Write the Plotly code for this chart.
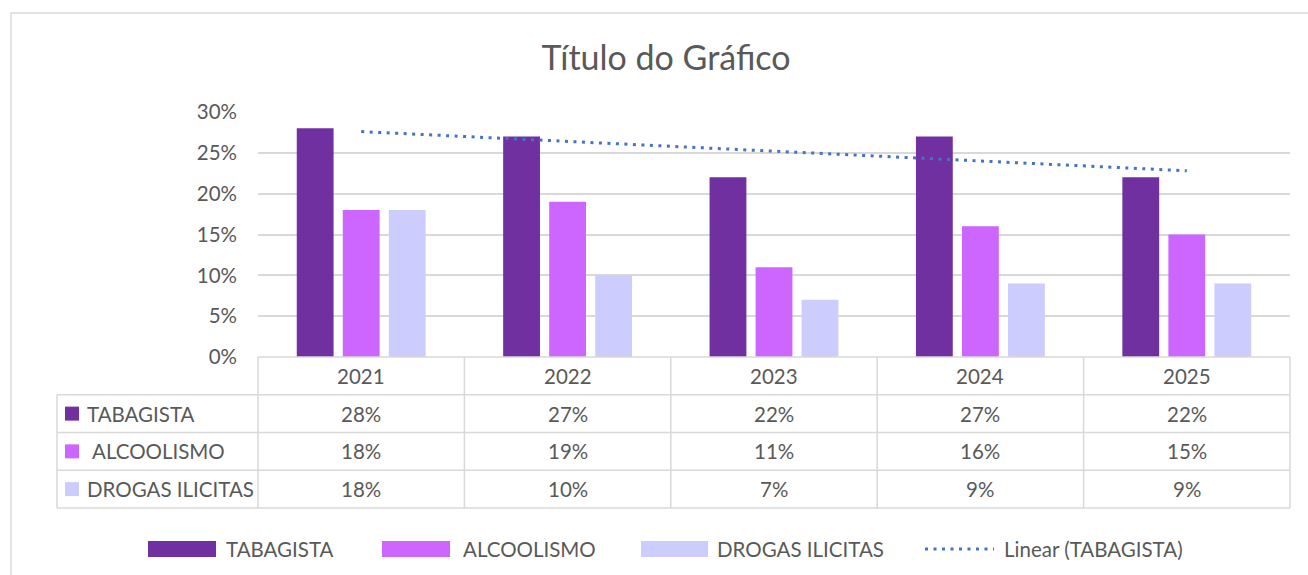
import numpy as np
import plotly.graph_objects as go

# ---- data ----
years = ["2021", "2022", "2023", "2024", "2025"]
series_names = ["TABAGISTA", "ALCOOLISMO", "DROGAS ILICITAS"]
tabagista = [28, 27, 22, 27, 22]
alcoolismo = [18, 19, 11, 16, 15]
drogas = [18, 10, 7, 9, 9]
y_ticks = [0, 5, 10, 15, 20, 25, 30]
y_tick_labels = ["0%", "5%", "10%", "15%", "20%", "25%", "30%"]
trend_name = "Linear (TABAGISTA)"
title_text = "Título do Gráfico"

# ---- style ----
colors = ["#7030A0", "#CC66FF", "#CCCCFF"]
trend_color = "#4472C4"
text_color = "#595959"
grid_color = "#D9D9D9"
FONT = "Lato"

W, H = 1308, 575
L, R, T, B = 258, 18, 112, 218
PW, PH = W - L - R, H - T - B


def px(x):
    return (x - L) / PW


def py(y):
    return (H - B - y) / PH


fig = go.Figure()
all_vals = [tabagista, alcoolismo, drogas]
for name, vals, c in zip(series_names, all_vals, colors):
    fig.add_trace(go.Bar(x=years, y=vals, name=name, marker_color=c,
                         marker_line_width=0, showlegend=False))

# linear trend of TABAGISTA (least squares, as Excel's trendline)
xi = np.arange(1, len(years) + 1)
slope, intercept = np.polyfit(xi, tabagista, 1)
trend = slope * xi + intercept
fig.add_trace(go.Scatter(x=years, y=trend, mode="lines", name=trend_name,
                         line=dict(color=trend_color, width=3, dash="3px,5.5px"),
                         showlegend=False))

shapes = []
annotations = []
line_style = dict(color=grid_color, width=1.5)

# outer frame
shapes.append(dict(type="rect", xref="paper", yref="paper",
                   x0=px(11), x1=px(1330), y0=py(13), y1=py(600),
                   line=dict(color=grid_color, width=1.5), layer="below"))

# data table grid
row_top = 357
row_h = 37.75
rows_y = [row_top + row_h * k for k in range(5)]
shapes.append(dict(type="line", xref="paper", yref="paper",
                   x0=px(258), x1=px(1290), y0=py(rows_y[0]), y1=py(rows_y[0]),
                   line=line_style))
for yy in rows_y[1:]:
    shapes.append(dict(type="line", xref="paper", yref="paper",
                       x0=px(57), x1=px(1290), y0=py(yy), y1=py(yy),
                       line=line_style))
shapes.append(dict(type="line", xref="paper", yref="paper",
                   x0=px(57), x1=px(57), y0=py(rows_y[1]), y1=py(rows_y[4]),
                   line=line_style))
n = len(years)
for k in range(n + 1):
    xx = 258 + PW * k / n
    shapes.append(dict(type="line", xref="paper", yref="paper",
                       x0=px(xx), x1=px(xx), y0=py(rows_y[0]), y1=py(rows_y[4]),
                       line=line_style))

fs = 20.5
tfont = dict(family=FONT, size=fs, color=text_color)
# header (years) - category axis positions are category indices
for i, y in enumerate(years):
    annotations.append(dict(x=i, xref="x", y=py(rows_y[0] + row_h / 2), yref="paper",
                            text=y, showarrow=False, xanchor="center", yanchor="middle",
                            font=tfont))
# rows
for r, (name, vals, c) in enumerate(zip(series_names, all_vals, colors)):
    yc = rows_y[r + 1] + row_h / 2
    shapes.append(dict(type="rect", xref="paper", yref="paper",
                       x0=px(65), x1=px(79), y0=py(yc - 7), y1=py(yc + 7),
                       fillcolor=c, line=dict(width=0)))
    tx = 90 if name == "ALCOOLISMO" else 85
    annotations.append(dict(x=px(tx), xref="paper", y=py(yc), yref="paper",
                            text=name, showarrow=False, xanchor="left", yanchor="middle",
                            font=tfont))
    for i, v in enumerate(vals):
        annotations.append(dict(x=i, xref="x", y=py(yc), yref="paper",
                                text=f"{v}%", showarrow=False,
                                xanchor="center", yanchor="middle", font=tfont))

# custom legend
leg_y = 549
leg_items = [(148, 216, 224), (382, 450, 461), (641, 708, 715)]
for (k0, k1, tx), name, c in zip(leg_items, series_names, colors):
    shapes.append(dict(type="rect", xref="paper", yref="paper",
                       x0=px(k0), x1=px(k1), y0=py(leg_y - 8), y1=py(leg_y + 8),
                       fillcolor=c, line=dict(width=0)))
    annotations.append(dict(x=px(tx), xref="paper", y=py(leg_y), yref="paper",
                            text=name, showarrow=False, xanchor="left", yanchor="middle",
                            font=tfont))
shapes.append(dict(type="line", xref="paper", yref="paper",
                   x0=px(925), x1=px(994), y0=py(leg_y), y1=py(leg_y),
                   line=dict(color=trend_color, width=3, dash="3px,5.5px")))
annotations.append(dict(x=px(1002), xref="paper", y=py(leg_y), yref="paper",
                        text=trend_name, showarrow=False, xanchor="left", yanchor="middle",
                        font=tfont))

fig.update_layout(
    width=W, height=H,
    margin=dict(l=L, r=R, t=T, b=B),
    paper_bgcolor="white", plot_bgcolor="white",
    barmode="group", bargap=0.331, bargroupgap=0.2,
    title=dict(text=title_text, xref="container", x=666 / W, xanchor="center",
               yref="container", y=1 - 58 / H, yanchor="middle",
               font=dict(family=FONT, size=34, color=text_color)),
    xaxis=dict(type="category", range=[-0.5, len(years) - 0.5], autorange=False,
               showticklabels=False, showgrid=False, zeroline=False,
               showline=False, ticks=""),
    yaxis=dict(range=[0, 30], autorange=False, tickmode="array", tickvals=y_ticks,
               ticktext=y_tick_labels,
               showgrid=True, gridcolor=grid_color, gridwidth=1.5,
               zeroline=False, showline=False, ticks="",
               ticklabelstandoff=20,
               tickfont=tfont),
    shapes=shapes, annotations=annotations,
    showlegend=False,
)

fig.write_html("out.html", config={"displayModeBar": False},
               post_script="document.body.style.margin='0';document.body.style.overflow='hidden';")
